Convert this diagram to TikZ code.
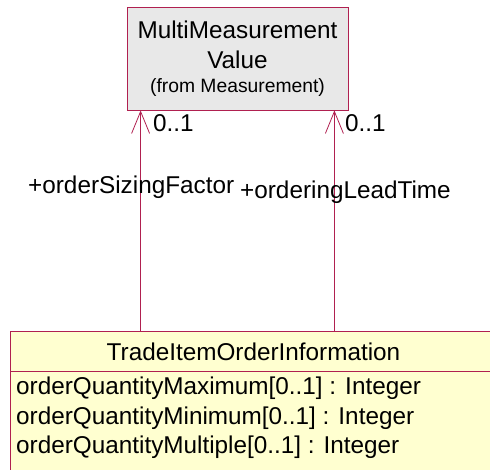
\documentclass[tikz,border=0pt]{standalone}
\usepackage{fontspec}
\setmainfont{Liberation Sans}
\usetikzlibrary{arrows.meta,calc}
\definecolor{umlred}{RGB}{176,32,80}
\definecolor{mmgray}{RGB}{232,232,232}
\definecolor{umlyellow}{RGB}{255,255,208}
\begin{document}
\begin{tikzpicture}[x=1pt,y=-1pt,
  txt/.style={inner sep=0pt,font=\fontsize{24.3}{29}\selectfont},
  small/.style={inner sep=0pt,font=\fontsize{19.3}{23}\selectfont},
  assoc/.style={draw=umlred,line width=0.8pt,-{Straight Barb[length=22pt,width=18pt,line width=0.8pt]}},
  classbox/.style={draw=umlred,line width=0.8pt,inner sep=0pt}]
\useasboundingbox (0,0) rectangle (490,470);
\begin{scope}
\clip (0,0) rectangle (490,470);
% top class
\node[classbox,fill=mmgray,minimum width=221pt,minimum height=103pt] (mm) at (237.5,58.5) {};
\node[txt] (mmname1) at (237.5,30) {MultiMeasurement};
\node[txt] (mmname2) at (237.5,60) {Value};
\node[small] (mmfrom) at (237.5,88) {(from Measurement)};
% bottom class
\node[classbox,fill=umlyellow,minimum width=487pt,minimum height=160pt,anchor=north west] (tio) at (10,331) {};
\coordinate (divl) at (10,371);
\draw[umlred,line width=0.8pt] (divl) -- (divl -| tio.east);
\node[txt] (tioname) at (253.5,352) {TradeItemOrderInformation};
\node[txt,anchor=west] (a1) at (16,388) {orderQuantityMaximum[0..1] : Integer};
\node[txt,anchor=west] (a2) at (16,418) {orderQuantityMinimum[0..1] : Integer};
\node[txt,anchor=west] (a3) at (16,447) {orderQuantityMultiple[0..1] : Integer};
\end{scope}
% associations
\coordinate (t1) at ($(mm.south west)+(14,0)$);
\coordinate (t2) at ($(mm.south east)+(-14,0)$);
\draw[assoc] (tio.north -| t1) -- (t1);
\draw[assoc] (tio.north -| t2) -- (t2);
\node[txt,anchor=west] (m1) at (153,123) {0..1};
\node[txt,anchor=west] (m2) at (345,123) {0..1};
\node[txt,anchor=west] (r1) at (28,187) {+orderSizingFactor};
\node[txt,anchor=west] (r2) at (240,192) {+orderingLeadTime};
\end{tikzpicture}
\end{document}
